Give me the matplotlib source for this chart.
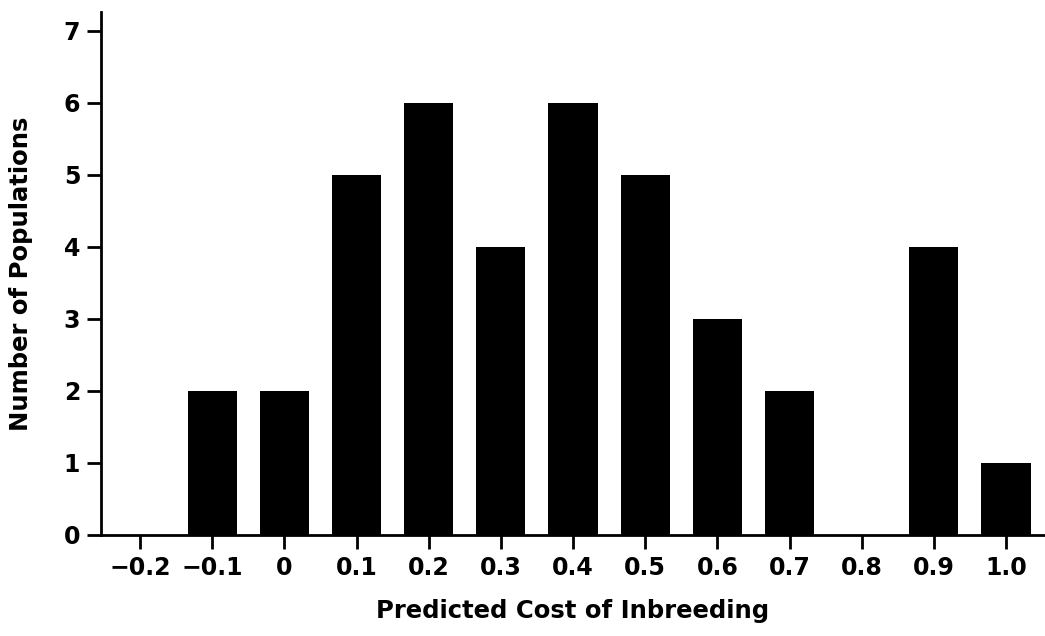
import matplotlib.pyplot as plt
import numpy as np

cost = [-0.2, -0.1, 0.0, 0.1, 0.2, 0.3, 0.4, 0.5, 0.6, 0.7, 0.8, 0.9, 1.0]
n_pops = [0, 2, 2, 5, 6, 4, 6, 5, 3, 2, 0, 4, 1]
xtick_labels = ["\u22120.2", "\u22120.1", "0", "0.1", "0.2", "0.3", "0.4",
                "0.5", "0.6", "0.7", "0.8", "0.9", "1.0"]
yticks = [0, 1, 2, 3, 4, 5, 6, 7]

plt.rcParams['font.family'] = ['DejaVu Sans']
plt.rcParams['font.weight'] = 'bold'

fig = plt.figure(figsize=(10.45, 6.36), dpi=100)
ax = fig.add_axes([0.0967, 0.159, 0.9033, 0.822])

ax.bar(cost, n_pops, width=0.068, color="black")

ax.set_xlim(-0.254, 1.054)
ax.set_ylim(0, 7.26)
ax.set_xticks(cost)
ax.set_xticklabels(xtick_labels)
ax.set_yticks(yticks)

for s in ["top", "right"]:
    ax.spines[s].set_visible(False)
ax.spines["left"].set_linewidth(2)
ax.spines["bottom"].set_linewidth(2)
ax.tick_params(axis="both", direction="out", width=2, length=10,
               labelsize=17, pad=5)
for lab in ax.get_xticklabels() + ax.get_yticklabels():
    lab.set_fontweight("bold")

ax.set_xlabel("Predicted Cost of Inbreeding", fontsize=17.5, fontweight="bold", labelpad=14)
ax.set_ylabel("Number of Populations", fontsize=17.5, fontweight="bold", labelpad=22)

fig.savefig("out.png", dpi=100)
